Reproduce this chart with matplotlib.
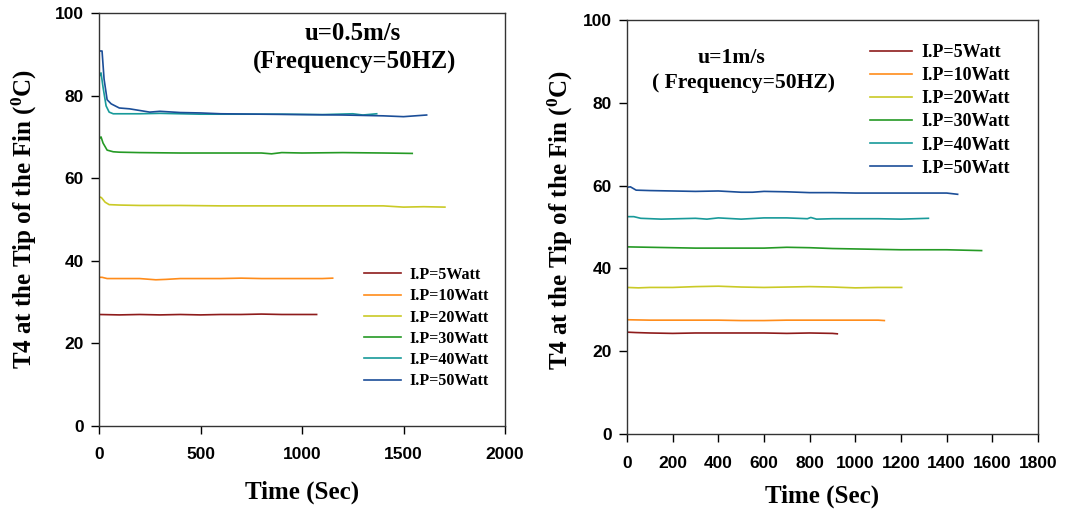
import matplotlib
matplotlib.use("Agg")
import matplotlib.pyplot as plt

plt.rcParams['mathtext.fontset'] = 'custom'
plt.rcParams['mathtext.rm'] = 'Liberation Serif:bold'
plt.rcParams['mathtext.bf'] = 'Liberation Serif:bold'
plt.rcParams['mathtext.it'] = 'Liberation Serif:bold'
plt.rcParams['mathtext.default'] = 'rm'

labels = ["I.P=5Watt", "I.P=10Watt", "I.P=20Watt", "I.P=30Watt", "I.P=40Watt", "I.P=50Watt"]
colors = ["#8E1B1B", "#FF8C1A", "#CACA26", "#259A25", "#189A9A", "#1B4E98"]

# Left panel: u = 0.5 m/s
t5L = [0, 100, 200, 300, 400, 500, 600, 700, 800, 900, 1000, 1072]
v5L = [27.0, 26.9, 27.0, 26.9, 27.0, 26.9, 27.0, 27.0, 27.1, 27.0, 27.0, 27.0]
t10L = [0, 15, 40, 100, 200, 280, 330, 400, 500, 600, 700, 800, 900, 1000, 1100, 1151]
v10L = [36.0, 36.0, 35.7, 35.7, 35.7, 35.4, 35.5, 35.7, 35.7, 35.7, 35.8, 35.7, 35.7, 35.7, 35.7, 35.8]
t20L = [0, 12, 30, 50, 100, 200, 400, 600, 800, 1000, 1200, 1400, 1500, 1600, 1704]
v20L = [55.5, 55.3, 54.2, 53.6, 53.5, 53.4, 53.4, 53.3, 53.3, 53.3, 53.3, 53.3, 53.0, 53.1, 53.0]
t30L = [0, 10, 20, 40, 70, 100, 200, 400, 600, 800, 850, 900, 1000, 1200, 1400, 1543]
v30L = [69.5, 70.0, 68.5, 66.8, 66.4, 66.3, 66.2, 66.1, 66.1, 66.1, 65.9, 66.2, 66.1, 66.2, 66.1, 66.0]
t40L = [0, 10, 20, 35, 50, 70, 100, 200, 300, 400, 500, 700, 900, 1100, 1250, 1300, 1368]
v40L = [84.5, 85.5, 82.0, 77.5, 76.0, 75.6, 75.6, 75.6, 75.7, 75.6, 75.5, 75.5, 75.5, 75.4, 75.6, 75.3, 75.6]
t50L = [0, 15, 25, 40, 60, 100, 150, 200, 250, 300, 400, 500, 600, 800, 1000, 1200, 1400, 1500, 1614]
v50L = [90.8, 90.8, 84.0, 79.0, 78.0, 77.0, 76.8, 76.4, 76.0, 76.2, 75.9, 75.8, 75.6, 75.5, 75.4, 75.3, 75.1, 74.9, 75.3]

# Right panel: u = 1 m/s
t5R = [0, 40, 100, 200, 300, 400, 500, 600, 700, 800, 900, 921]
v5R = [24.6, 24.5, 24.4, 24.3, 24.4, 24.4, 24.4, 24.4, 24.3, 24.4, 24.3, 24.2]
t10R = [0, 100, 200, 300, 400, 500, 600, 700, 800, 900, 1000, 1100, 1127]
v10R = [27.6, 27.5, 27.5, 27.5, 27.5, 27.4, 27.4, 27.5, 27.5, 27.5, 27.5, 27.5, 27.4]
t20R = [0, 50, 100, 200, 300, 400, 500, 600, 700, 800, 900, 1000, 1100, 1203]
v20R = [35.4, 35.3, 35.4, 35.4, 35.6, 35.7, 35.5, 35.4, 35.5, 35.6, 35.5, 35.3, 35.4, 35.4]
t30R = [0, 100, 200, 300, 400, 500, 600, 700, 800, 900, 1000, 1100, 1200, 1300, 1400, 1553]
v30R = [45.2, 45.1, 45.0, 44.9, 44.9, 44.9, 44.9, 45.1, 45.0, 44.8, 44.7, 44.6, 44.5, 44.5, 44.5, 44.3]
t40R = [0, 30, 60, 150, 300, 350, 400, 500, 600, 700, 790, 805, 830, 900, 1000, 1100, 1200, 1320]
v40R = [52.5, 52.5, 52.1, 51.9, 52.1, 51.9, 52.2, 51.9, 52.2, 52.2, 52.0, 52.3, 51.9, 52.0, 52.0, 52.0, 51.9, 52.1]
t50R = [0, 15, 40, 100, 200, 300, 400, 500, 550, 600, 700, 800, 900, 1000, 1200, 1400, 1448]
v50R = [59.6, 59.7, 58.9, 58.8, 58.7, 58.6, 58.7, 58.4, 58.4, 58.6, 58.5, 58.3, 58.3, 58.2, 58.2, 58.2, 57.9]

left_series = [(t5L, v5L), (t10L, v10L), (t20L, v20L), (t30L, v30L), (t40L, v40L), (t50L, v50L)]
right_series = [(t5R, v5R), (t10R, v10R), (t20R, v20R), (t30R, v30R), (t40R, v40R), (t50R, v50R)]

W, H = 1066, 513
fig = plt.figure(figsize=(W / 100, H / 100), dpi=100)

def px_axes(l, r, t, b):
    return fig.add_axes([l / W, (H - b) / H, (r - l) / W, (b - t) / H])

axL = px_axes(99, 505, 13, 426)
axR = px_axes(627, 1038, 20, 434)

serif = 'Liberation Serif'
sans = 'Liberation Sans'
ylab = r'T4 at the Tip of the Fin ($^{0}$C)'

def style(ax, xmax, xstep, xpad):
    ax.set_ylim(0, 100)
    ax.set_xlim(0, xmax)
    ax.set_yticks(range(0, 101, 20))
    ax.set_xticks(range(0, xmax + 1, xstep))
    ax.tick_params(axis='both', direction='out', length=6, width=1, colors='black')
    ax.tick_params(axis='y', pad=5)
    ax.tick_params(axis='x', pad=xpad)
    ax.tick_params(top=False, right=False)
    for lab in ax.get_xticklabels() + ax.get_yticklabels():
        lab.set_fontfamily(sans)
        lab.set_fontweight('bold')
        lab.set_fontsize(12.5)
    for sp in ax.spines.values():
        sp.set_linewidth(1.0)
        sp.set_color('#333333')

for (t, v), c, lab in zip(left_series, colors, labels):
    axL.plot(t, v, color=c, lw=1.2, label=lab)
for (t, v), c, lab in zip(right_series, colors, labels):
    axR.plot(t, v, color=c, lw=1.2, label=lab)

style(axL, 2000, 500, 9)
style(axR, 1800, 200, 10)

axL.set_xlabel('Time (Sec)', fontfamily=serif, fontweight='bold', fontsize=18)
axR.set_xlabel('Time (Sec)', fontfamily=serif, fontweight='bold', fontsize=18)
axL.xaxis.set_label_coords((302 - 99) / 406, -(481 - 426) / 413)
axR.xaxis.set_label_coords((822 - 627) / 411, -(485 - 434) / 414)
axL.set_ylabel(ylab, fontfamily=serif, fontweight='bold', fontsize=18)
axR.set_ylabel(ylab, fontfamily=serif, fontweight='bold', fontsize=18)
axL.yaxis.set_label_coords(-(99 - 39) / 406, (426 - 219) / 413)
axR.yaxis.set_label_coords(-(627 - 575) / 411, (434 - 220) / 414)

axL.text((353 - 99) / 406, (426 - 33) / 413, 'u=0.5m/s', transform=axL.transAxes,
         ha='center', va='center', fontfamily=serif, fontweight='bold', fontsize=17.8)
axL.text((355 - 99) / 406, (426 - 62) / 413, '(Frequency=50HZ)', transform=axL.transAxes,
         ha='center', va='center', fontfamily=serif, fontweight='bold', fontsize=17.8)
axR.text((731 - 627) / 411, (434 - 58) / 414, 'u=1m/s', transform=axR.transAxes,
         ha='center', va='center', fontfamily=serif, fontweight='bold', fontsize=15.6)
axR.text((744 - 627) / 411, (434 - 83) / 414, '( Frequency=50HZ)', transform=axR.transAxes,
         ha='center', va='center', fontfamily=serif, fontweight='bold', fontsize=15.6)

legL = axL.legend(loc='upper left', bbox_to_anchor=((364 - 99) / 406, (426 - 267) / 413),
                  frameon=False, borderaxespad=0, borderpad=0, handlelength=2.3,
                  handletextpad=0.55, labelspacing=0.33,
                  prop={'family': serif, 'weight': 'bold', 'size': 11.5})
legR = axR.legend(loc='upper left', bbox_to_anchor=((870 - 627) / 411, (434 - 44) / 414),
                  frameon=False, borderaxespad=0, borderpad=0, handlelength=2.3,
                  handletextpad=0.55, labelspacing=0.34,
                  prop={'family': serif, 'weight': 'bold', 'size': 13})

fig.savefig('out.png', dpi=100)
